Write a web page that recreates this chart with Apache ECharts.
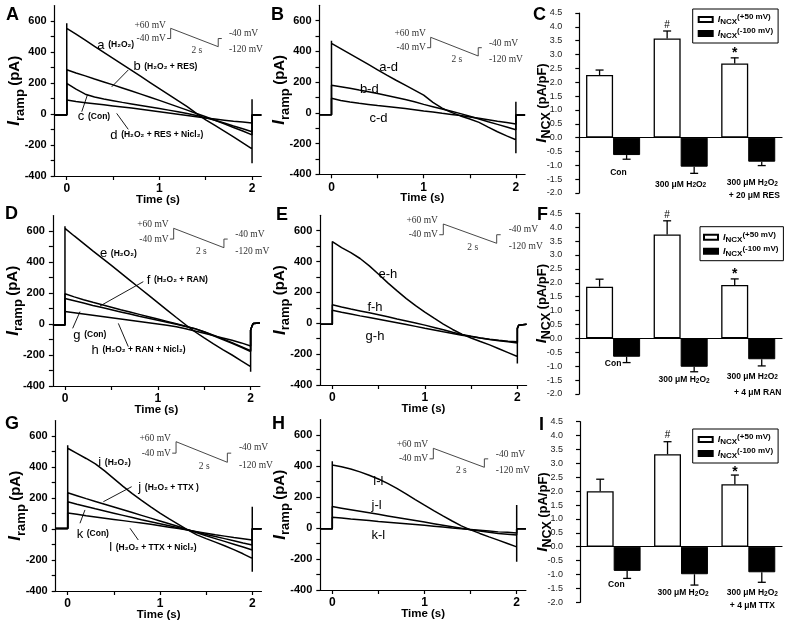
<!DOCTYPE html>
<html><head><meta charset="utf-8">
<script src="https://cdn.jsdelivr.net/npm/echarts@6/dist/echarts.min.js"></script>
<style>html,body{margin:0;padding:0;background:#fff}#c{width:788px;height:623px}</style>
</head><body><div id="c"></div>
<script>
const FONT = '"Liberation Sans", Arial, Helvetica, sans-serif';
const SERIF = '"Liberation Serif", "Times New Roman", serif';

// ---------- time grid of the ramp traces (s) ----------
const T = [0,0.1,0.2,0.3,0.4,0.5,0.6,0.7,0.8,0.9,1.0,1.1,1.2,1.3,1.4,1.5,1.6,1.7,1.8,1.9,2.0];
const X_TICKS = [0,0.5,1,1.5,2];
const X_LABELS = [0,1,2];
const Y_TICKS = [-400,-300,-200,-100,0,100,200,300,400,500,600];
const Y_LABELS = [-400,-200,0,200,400,600];

// ---------- Panel A (pA) ----------
const A_a = [553,515,476,437,398,359,320,281,242,203,164,125,86,47,4,-38,-74,-110,-147,-186,-225];
const A_b = [285,265,246,226,207,188,168,148,128,108,88,67,46,25,3,-18,-40,-63,-87,-110,-135];
const A_c = [198,160,128,110,97,86,75,65,55,45,35,25,15,3,-10,-25,-40,-58,-77,-95,-114];
const A_d = [90,80,73,66,59,52,45,38,30,22,14,6,-2,-10,-18,-26,-33,-40,-47,-52,-58];
const A_base = -6, A_peak = 585, A_endSpike = [-318, 95];
const A_post = [[2,-6],[2.1,-6]];
// ---------- Panel B ----------
const B_ad = [452,418,384,350,315,280,245,212,180,148,115,68,30,3,-20,-40,-62,-93,-123,-150,-175];
const B_bd = [180,170,160,148,137,126,113,100,87,72,55,40,25,10,-5,-22,-40,-58,-75,-92,-110];
const B_cd = [95,80,70,62,55,48,42,35,28,20,12,5,-3,-10,-18,-27,-35,-45,-55,-63,-72];
const B_base = -12, B_peak = 470, B_endSpike = [-263, 73];
const B_post = [[2,-14],[2.1,-14]];
// ---------- Panel D ----------
const D_e = [617,568,520,472,425,378,330,282,234,186,138,90,42,-5,-50,-90,-128,-165,-200,-238,-275];
const D_f = [195,175,157,140,124,108,92,77,62,47,32,17,2,-14,-30,-52,-76,-100,-125,-150,-178];
const D_g = [165,150,135,120,106,92,78,64,50,37,24,11,-2,-16,-30,-50,-72,-96,-120,-146,-172];
const D_h = [80,72,64,56,48,40,32,24,16,8,0,-8,-18,-30,-45,-60,-75,-90,-105,-122,-142];
const D_base = -6, D_peak = 630, D_endSpike = [-308, -40];
const D_post = [[2,-40],[2.015,-12],[2.03,4],[2.05,8],[2.1,6]];
// ---------- Panel E ----------
const E_eh = [518,490,458,420,372,318,262,210,160,114,72,33,-5,-40,-70,-95,-118,-140,-165,-190,-215];
const E_fh = [120,105,92,80,68,55,42,28,15,2,-12,-27,-42,-58,-72,-84,-95,-105,-113,-120,-128];
const E_gh = [85,72,60,48,37,26,15,4,-8,-20,-32,-43,-55,-66,-77,-86,-95,-103,-110,-116,-120];
const E_base = -7, E_peak = 530, E_endSpike = [-260, -33];
const E_post = [[2,-33],[2.015,-12],[2.03,-5],[2.1,-6]];
// ---------- Panel G ----------
const G_i = [521,488,455,420,375,325,275,228,185,143,102,65,30,-5,-38,-62,-85,-108,-133,-160,-190];
const G_j = [234,215,196,178,160,142,124,106,88,70,52,34,16,-4,-24,-44,-62,-80,-98,-116,-135];
const G_k = [176,160,145,130,116,102,88,74,60,47,34,21,8,-6,-20,-35,-49,-62,-76,-90,-103];
const G_l = [103,95,86,78,70,62,54,46,38,30,21,12,3,-7,-17,-27,-37,-46,-55,-63,-71];
const G_base = 3, G_peak = 540, G_endSpike = [-275, 144];
const G_post = [[2,2],[2.1,2]];
// ---------- Panel H ----------
const H_il = [406,395,381,362,340,316,288,256,220,183,147,112,78,45,14,-12,-35,-57,-78,-100,-122];
const H_jl = [138,128,118,108,98,88,78,68,58,48,38,28,18,8,-2,-12,-20,-28,-35,-40,-45];
const H_kl = [70,64,58,53,48,42,37,32,27,22,17,12,6,0,-5,-10,-15,-20,-25,-28,-32];
const H_base = -5, H_peak = 430, H_endSpike = [-217, 148];
const H_post = [[2,-5],[2.1,-5]];

// ---------- trace annotations [text, t, v, align] ----------
const A_labels = [['{L|a} {s|(H₂O₂)}',0.33,445,'left'],['{L|b} {s|(H₂O₂ + RES)}',0.72,305,'left'],['{L|c} {s|(Con)}',0.12,-17,'left'],['{L|d} {s|(H₂O₂ + RES + Nicl₂)}',0.47,-135,'left']];
const A_leaders = [[0.664,284,0.485,175],[0.162,15,0.223,123],[0.664,-99,0.539,4]];
const B_labels = [['a-d',0.62,295,'center'],['b-d',0.41,153,'center'],['c-d',0.51,-36,'center']];
const D_labels = [['{L|e} {s|(H₂O₂)}',0.377,456,'left'],['{L|f} {s|(H₂O₂ + RAN)}',0.88,284,'left'],['{L|g} {s|(Con)}',0.09,-71,'left'],['{L|h} {s|(H₂O₂ + RAN + Nicl₂)}',0.287,-168,'left']];
const D_leaders = [[0.844,273,0.377,116],[0.083,-28,0.162,80],[0.682,-146,0.575,4]];
const E_labels = [['e-h',0.6,319,'center'],['f-h',0.461,103,'center'],['g-h',0.461,-87,'center']];
const G_labels = [['{L|i} {s|(H₂O₂)}',0.332,430,'left'],['{L|j} {s|(H₂O₂ + TTX )}',0.765,269,'left'],['{L|k} {s|(Con)}',0.097,-32,'left'],['{L|l} {s|(H₂O₂ + TTX + Nicl₂)}',0.45,-118,'left']];
const G_leaders = [[0.693,273,0.386,176],[0.133,37,0.187,123],[0.765,-71,0.675,5]];
const H_labels = [['i-l',0.5,300,'center'],['j-l',0.48,148,'center'],['k-l',0.5,-45,'center']];

// ---------- voltage protocol inset (s, mV) ----------
const PROTO_T = [-0.15,0,0,2,2,2.15];
const PROTO_V = [-40,-40,60,-120,-40,-40];
const INSET_TEXT = ['+60 mV','-40 mV','2 s','-40 mV','-120 mV'];
const INSET_T = [-0.2,-0.2,1.1,2.45,2.45];
const INSET_V = [92,-40,-155,5,-152];
const INSET_ALIGN = ['right','right','center','left','left'];

// ---------- I_NCX bar panels (pA/pF) ----------
const CATS = ['Con','300 μM H2O2','300 μM H2O2 + drug'];
const C_pos = [2.26,3.58,2.68], C_posErr = [2.44,3.85,2.88];
const C_neg = [-0.63,-1.05,-0.87], C_negErr = [-0.78,-1.29,-1.01];
const F_pos = [1.86,3.74,1.92], F_posErr = [2.13,4.23,2.14];
const F_neg = [-0.66,-1.02,-0.75], F_negErr = [-0.87,-1.20,-0.99];
const I_pos = [2.00,3.33,2.25], I_posErr = [2.43,3.78,2.58];
const I_neg = [-0.87,-0.99,-0.92], I_negErr = [-1.14,-1.38,-1.28];
const C_sig = [[1,4.04,'#'],[2,3.05,'*']];
const F_sig = [[1,4.42,'#'],[2,2.31,'*']];
const I_sig = [[1,4.00,'#'],[2,2.67,'*']];
const H2O2 = '300 μM H{d|2}O{d|2}';
const C_cat = [['Con',0,0.08,-1.26],[H2O2,1,0,-1.70],[H2O2,2,0.06,-1.63],['+ 20 μM RES',2,0.09,-2.10]];
const F_cat = [['Con',0,0,-0.92],[H2O2,1,0.05,-1.50],[H2O2,2,0.06,-1.37],['+ 4 μM RAN',2,0.14,-1.95]];
const I_cat = [['Con',0,0.04,-1.37],[H2O2,1,0.03,-1.66],[H2O2,2,0.06,-1.66],['+ 4 μM TTX',2,0.06,-2.13]];
const SERIES_POS = 'I_NCX(+50 mV)', SERIES_NEG = 'I_NCX(-100 mV)';

const XMIN = -0.13, XMAX = 2.1;

const TRACE_PANELS = [
  {grid:{left:54.7,top:5.5,width:206.6,height:170.5}, inset:{left:167.1,top:28.3,width:54.7,height:18.4},
   traces:[A_a,A_b,A_c,A_d], base:A_base, peak:A_peak, endSpike:A_endSpike, post:A_post, labels:A_labels, leaders:A_leaders, big:false},
  {grid:{left:319.5,top:5.3,width:205.6,height:169}, inset:{left:427.1,top:37.3,width:54.7,height:18.7},
   traces:[B_ad,B_bd,B_cd], base:B_base, peak:B_peak, endSpike:B_endSpike, post:B_post, labels:B_labels, leaders:[], big:true},
  {grid:{left:52.9,top:215.5,width:207,height:170.5}, inset:{left:169.9,top:228.3,width:57.8,height:19.4},
   traces:[D_e,D_f,D_g,D_h], base:D_base, peak:D_peak, endSpike:D_endSpike, post:D_post, labels:D_labels, leaders:D_leaders, big:false},
  {grid:{left:320.3,top:215.3,width:206.3,height:169.7}, inset:{left:439.3,top:224,width:61.4,height:19.3},
   traces:[E_eh,E_fh,E_gh], base:E_base, peak:E_peak, endSpike:E_endSpike, post:E_post, labels:E_labels, leaders:[], big:true},
  {grid:{left:55.7,top:420.5,width:205.8,height:170.5}, inset:{left:172.2,top:441.7,width:59,height:20.6},
   traces:[G_i,G_j,G_k,G_l], base:G_base, peak:G_peak, endSpike:G_endSpike, post:G_post, labels:G_labels, leaders:G_leaders, big:false},
  {grid:{left:320.3,top:419.5,width:205.6,height:170.5}, inset:{left:429.5,top:448.3,width:58.7,height:19},
   traces:[H_il,H_jl,H_kl], base:H_base, peak:H_peak, endSpike:H_endSpike, post:H_post, labels:H_labels, leaders:[], big:true}
];
const BAR_PANELS = [
  {grid:{left:579.3,top:13,width:202.7,height:180}, legend:{left:692.7,top:9,padL:5}, pos:C_pos,posErr:C_posErr,neg:C_neg,negErr:C_negErr,sig:C_sig,cat:C_cat},
  {grid:{left:579.3,top:213.3,width:202.7,height:180.7}, legend:{left:700,top:226.7,padL:3}, pos:F_pos,posErr:F_posErr,neg:F_neg,negErr:F_negErr,sig:F_sig,cat:F_cat},
  {grid:{left:580,top:421.7,width:202,height:180.6}, legend:{left:692.7,top:429,padL:5}, pos:I_pos,posErr:I_posErr,neg:I_neg,negErr:I_negErr,sig:I_sig,cat:I_cat}
];
const LETTERS = [['A',6,6],['B',271,6],['C',533,6],['D',5,205],['E',276,206],['F',537,206],['G',5,415],['H',272,415],['I',539,416]];

// ---------- build ----------
const grids = [], xAxes = [], yAxes = [], series = [], legends = [];
const AXC = '#000';

function textEl(x, y, text, o) {
  const st = {text: text, fontSize:o.size, fontWeight:o.weight||'normal', fontFamily:o.family||FONT, fontStyle:o.style||'normal',
    fill:o.color||'#000', textFill:o.color||'#000', textAlign:o.align||'left', align:o.align||'left',
    textVerticalAlign:o.va||'middle', verticalAlign:o.va||'middle'};
  if (o.rich) st.rich = o.rich;
  return {type:'text', x:x, y:y, style:st};
}
function ri(size, weight, extra) {
  return Object.assign({fontSize:size, fontWeight:weight||'normal', fontFamily:FONT, fill:'#000', textFill:'#000', color:'#000'}, extra||{});
}

TRACE_PANELS.forEach(P => {
  const gi = grids.length;
  grids.push(Object.assign({containLabel:false}, P.grid));
  xAxes.push({type:'value', gridIndex:gi, min:XMIN, max:XMAX,
    axisLine:{show:true, onZero:false, lineStyle:{color:AXC, width:1.2}},
    axisTick:{show:true, customValues:X_TICKS, length:4, lineStyle:{color:AXC, width:1.2}},
    axisLabel:{customValues:X_LABELS, formatter:v=>String(v), fontSize:12, fontWeight:'bold', color:'#000', margin:7, fontFamily:FONT},
    splitLine:{show:false},
    name:'Time (s)', nameLocation:'middle', nameGap:18, nameMoveOverlap:false,
    nameTextStyle:{fontSize:11.5, fontWeight:'bold', color:'#000', fontFamily:FONT}});
  yAxes.push({type:'value', gridIndex:gi, min:-400, max:700,
    axisLine:{show:true, onZero:false, lineStyle:{color:AXC, width:1.2}},
    axisTick:{show:true, customValues:Y_TICKS, length:4, lineStyle:{color:AXC, width:1.2}},
    axisLabel:{customValues:Y_LABELS, fontSize:11, fontWeight:'bold', color:'#000', margin:8, fontFamily:FONT},
    splitLine:{show:false},
    name:'{i|I}{s|ramp} {p|(pA)}', nameLocation:'middle', nameGap:28, nameMoveOverlap:false,
    nameTextStyle:{rich:{
      i:{fontSize:17, fontStyle:'italic', fontWeight:'bold', fontFamily:FONT, color:'#000', lineHeight:24, verticalAlign:'middle'},
      s:{fontSize:13, fontWeight:'bold', fontFamily:FONT, color:'#000', lineHeight:12, verticalAlign:'bottom'},
      p:{fontSize:15, fontWeight:'bold', fontFamily:FONT, color:'#000', lineHeight:24, verticalAlign:'middle'}}}});
  P.traces.forEach((vals, k) => {
    const d = [[XMIN, P.base], [0, P.base]];
    if (k === 0) d.push([0, P.peak]);
    T.forEach((t, i) => d.push([t, vals[i]]));
    if (k === 0) { d.push([2, P.endSpike[0]], [2, P.endSpike[1]]); }
    P.post.forEach(p => d.push(p));
    series.push({type:'line', xAxisIndex:gi, yAxisIndex:gi, data:d, symbol:'none', showSymbol:false, silent:true,
      animation:false, lineStyle:{color:'#000', width:1.5}, z:3});
  });
  // annotations
  const labs = P.labels;
  series.push({type:'custom', xAxisIndex:gi, yAxisIndex:gi, silent:true, animation:false, z:5,
    data: labs.map(l => [l[1], l[2]]),
    renderItem: (params, api) => {
      const L = labs[params.dataIndex];
      const p = api.coord([api.value(0), api.value(1)]);
      if (P.big) return textEl(p[0], p[1], L[0], {size:13, align:L[3]});
      return textEl(p[0], p[1], L[0], {size:13, align:L[3], rich:{
        L: ri(13,'normal',{verticalAlign:'middle', lineHeight:16}),
        s: ri(8.5,'bold',{verticalAlign:'middle', lineHeight:16})}});
    }});
  if (P.leaders.length) {
    const ld = P.leaders;
    series.push({type:'custom', xAxisIndex:gi, yAxisIndex:gi, silent:true, animation:false, z:5,
      encode:{x:[0,2], y:[1,3]}, data: ld,
      renderItem: (params, api) => {
        const a = api.coord([api.value(0), api.value(1)]), b = api.coord([api.value(2), api.value(3)]);
        return {type:'line', shape:{x1:a[0], y1:a[1], x2:b[0], y2:b[1]}, style:{stroke:'#000', lineWidth:0.9}};
      }});
  }
  // inset protocol
  const ii = grids.length;
  grids.push(Object.assign({containLabel:false}, P.inset));
  xAxes.push({type:'value', gridIndex:ii, min:-0.15, max:2.15, show:false});
  yAxes.push({type:'value', gridIndex:ii, min:-120, max:60, show:false});
  series.push({type:'line', xAxisIndex:ii, yAxisIndex:ii, data:PROTO_T.map((t,i)=>[t, PROTO_V[i]]), symbol:'none',
    silent:true, animation:false, lineStyle:{color:'#333', width:0.9}, clip:false, z:4});
  series.push({type:'custom', xAxisIndex:ii, yAxisIndex:ii, silent:true, animation:false, z:5,
    data: INSET_T.map((t,i)=>[t, INSET_V[i]]),
    renderItem: (params, api) => {
      const p = api.coord([api.value(0), api.value(1)]);
      return textEl(p[0], p[1], INSET_TEXT[params.dataIndex], {size:9.5, align:INSET_ALIGN[params.dataIndex], family:SERIF, color:'#333'});
    }});
});

BAR_PANELS.forEach(P => {
  const gi = grids.length;
  grids.push(Object.assign({containLabel:false}, P.grid));
  xAxes.push({type:'category', gridIndex:gi, data:CATS,
    axisLine:{show:true, onZero:true, lineStyle:{color:AXC, width:1.2}},
    axisTick:{show:false}, axisLabel:{show:false}, splitLine:{show:false}});
  yAxes.push({type:'value', gridIndex:gi, min:-2, max:4.5, interval:0.5,
    axisLine:{show:true, onZero:false, lineStyle:{color:AXC, width:1.2}},
    axisTick:{show:true, length:4, lineStyle:{color:AXC, width:1.2}},
    axisLabel:{fontSize:9, color:'#222', margin:17, fontFamily:FONT, formatter:v=>v.toFixed(1)},
    splitLine:{show:false},
    name:'{i|I}{s|NCX} {p|(pA/pF)}', nameLocation:'middle', nameGap:26, nameMoveOverlap:false,
    nameTextStyle:{rich:{
      i:{fontSize:15, fontStyle:'italic', fontWeight:'bold', fontFamily:FONT, color:'#000', lineHeight:22, verticalAlign:'middle'},
      s:{fontSize:12.5, fontWeight:'bold', fontFamily:FONT, color:'#000', lineHeight:12, verticalAlign:'bottom'},
      p:{fontSize:13, fontWeight:'bold', fontFamily:FONT, color:'#000', lineHeight:22, verticalAlign:'middle'}}}});
  series.push({type:'bar', name:SERIES_POS, xAxisIndex:gi, yAxisIndex:gi, data:P.pos, barGap:'0%', barCategoryGap:'20%',
    itemStyle:{color:'#fff', borderColor:'#000', borderWidth:1.3}, animation:false, silent:true});
  series.push({type:'bar', name:SERIES_NEG, xAxisIndex:gi, yAxisIndex:gi, data:P.neg, barGap:'0%', barCategoryGap:'20%',
    itemStyle:{color:'#000', borderColor:'#000', borderWidth:1}, animation:false, silent:true});
  const errRows = [];
  P.pos.forEach((v,i) => errRows.push([i, 0, v, P.posErr[i]]));
  P.neg.forEach((v,i) => errRows.push([i, 1, v, P.negErr[i]]));
  series.push({type:'custom', xAxisIndex:gi, yAxisIndex:gi, silent:true, animation:false, z:6,
    encode:{x:0, y:[2,3]}, data:errRows,
    renderItem: (params, api) => {
      const band = api.size([1,0])[0];
      const c = api.coord([api.value(0), api.value(2)]);
      const x = c[0] + (api.value(1) === 0 ? -0.2 : 0.2) * band;
      const ye = api.coord([api.value(0), api.value(3)])[1];
      const st = {stroke:'#000', lineWidth:1.3};
      return {type:'group', children:[
        {type:'line', shape:{x1:x, y1:c[1], x2:x, y2:ye}, style:st},
        {type:'line', shape:{x1:x-4, y1:ye, x2:x+4, y2:ye}, style:st}]};
    }});
  const sig = P.sig;
  series.push({type:'custom', xAxisIndex:gi, yAxisIndex:gi, silent:true, animation:false, z:6,
    encode:{x:0, y:1}, data: sig.map(s => [s[0], s[1]]),
    renderItem: (params, api) => {
      const band = api.size([1,0])[0];
      const c = api.coord([api.value(0), api.value(1)]);
      const ch = sig[params.dataIndex][2];
      return textEl(c[0] - 0.2*band, c[1], ch, {size: ch === '*' ? 14 : 10, weight: ch === '*' ? 'bold' : 'normal', align:'center'});
    }});
  const cat = P.cat;
  series.push({type:'custom', xAxisIndex:gi, yAxisIndex:gi, silent:true, animation:false, z:6, clip:false,
    encode:{x:0, y:1}, data: cat.map(c => [c[1], c[3]]),
    renderItem: (params, api) => {
      const band = api.size([1,0])[0];
      const c = api.coord([api.value(0), api.value(1)]);
      const L = cat[params.dataIndex];
      return textEl(c[0] + L[2]*band, c[1], L[0], {size:8.5, weight:'bold', align:'center', rich:{
        d: ri(6.5,'bold',{verticalAlign:'bottom', lineHeight:8}),
        n: ri(8.5,'bold')}});
    }});
  legends.push({left:P.legend.left, top:P.legend.top, orient:'vertical', data:[SERIES_POS, SERIES_NEG], icon:'rect',
    itemWidth:14, itemHeight:5, itemGap:1, padding:[4,5,3,P.legend.padL], borderColor:'#000', borderWidth:1,
    selectedMode:false, backgroundColor:'#fff',
    formatter: n => '{i|I}{s|NCX}{p|' + (n === SERIES_POS ? '(+50 mV)' : '(-100 mV)') + '}',
    textStyle:{fontSize:8.5, fontWeight:'bold', fontFamily:FONT, color:'#000', rich:{
      i:{fontSize:9, fontStyle:'italic', fontWeight:'bold', fontFamily:FONT, color:'#000', lineHeight:13, verticalAlign:'middle'},
      s:{fontSize:8, fontWeight:'bold', fontFamily:FONT, color:'#000', lineHeight:8, verticalAlign:'bottom'},
      p:{fontSize:8, fontWeight:'bold', fontFamily:FONT, color:'#000', lineHeight:8, verticalAlign:'top'}}}});
});

const graphic = LETTERS.map(l => ({type:'text', left:l[1], top:l[2], silent:true,
  style:{text:l[0], font:'bold 18px ' + FONT, fill:'#000'}}));

const chart = echarts.init(document.getElementById('c'), null, {renderer:'canvas'});
chart.setOption({animation:false, backgroundColor:'#fff', grid:grids, xAxis:xAxes, yAxis:yAxes, series:series, legend:legends, graphic:graphic});
</script></body></html>
